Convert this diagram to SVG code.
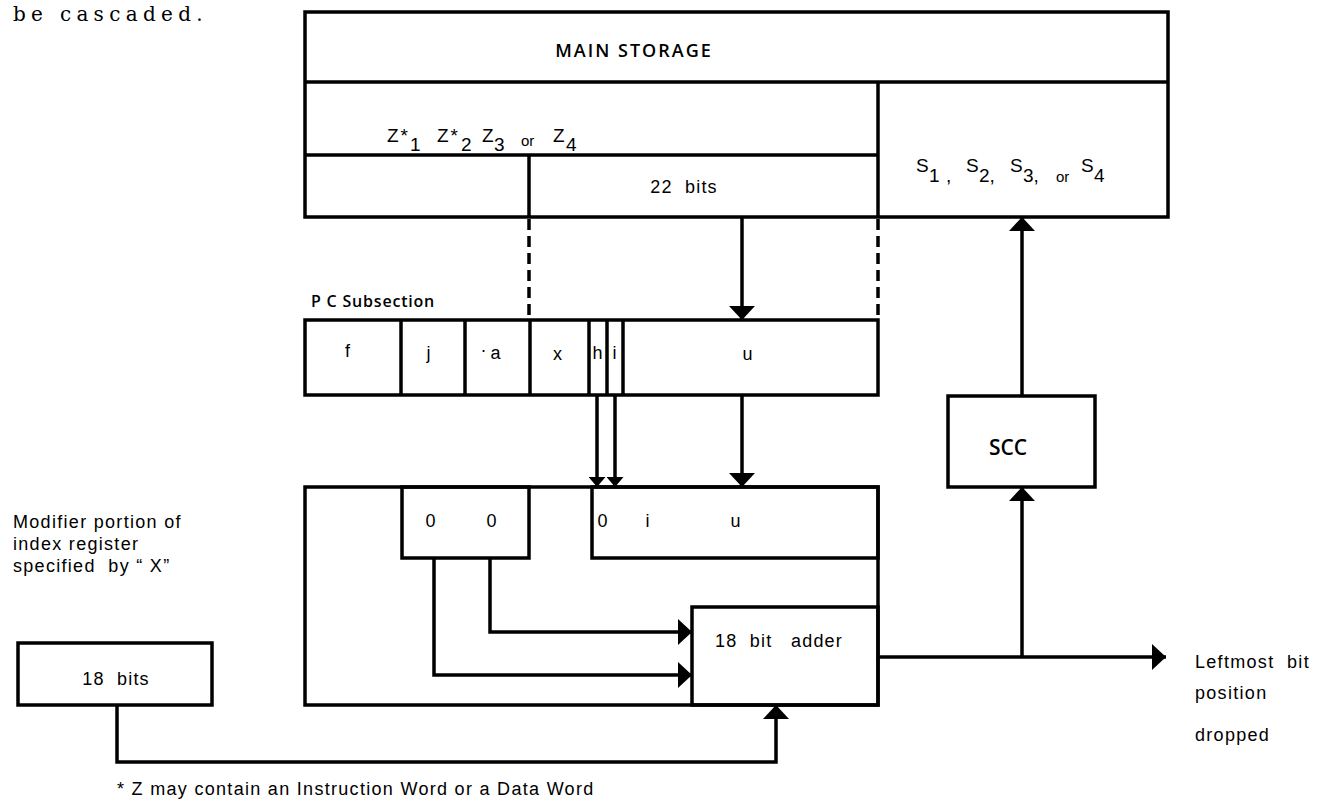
<svg xmlns="http://www.w3.org/2000/svg" width="1332" height="805" viewBox="0 0 1332 805">
<style>
.box{fill:none;stroke:#000;stroke-width:3.5}
.ln{fill:none;stroke:#000;stroke-width:3.5}
.dash{fill:none;stroke:#000;stroke-width:3.5;stroke-dasharray:11 6}
.t{font-family:"Liberation Sans",Arial,sans-serif;font-size:18px;letter-spacing:1.2px;fill:#000;white-space:pre}
.z{font-family:"Liberation Sans",Arial,sans-serif;font-size:19px;fill:#000}
.or{font-family:"Liberation Sans",Arial,sans-serif;font-size:15px;fill:#000}
.s{font-family:"Liberation Sans",Arial,sans-serif;font-size:18px;letter-spacing:1.3px;fill:#000;white-space:pre}
.b{font-family:"Open Sans","Liberation Sans",sans-serif;font-weight:600;fill:#000}
.tw{font-family:"DejaVu Serif","Liberation Serif",serif;font-size:20px;letter-spacing:5.3px;fill:#000}
</style>
<defs>
<marker id="ah" viewBox="0 0 14 26" refX="14" refY="13" markerWidth="14" markerHeight="26" orient="auto" markerUnits="userSpaceOnUse"><path d="M0,0 L14,13 L0,26 z" fill="#000"/></marker>
<marker id="ahs" viewBox="0 0 10 17" refX="10" refY="8.5" markerWidth="10" markerHeight="17" orient="auto" markerUnits="userSpaceOnUse"><path d="M0,0 L10,8.5 L0,17 z" fill="#000"/></marker>
</defs>
<rect width="1332" height="805" fill="#fff"/>
<text class="tw" x="13" y="21">be cascaded.</text>

<g id="main-storage">
<rect class="box" x="305" y="12" width="863" height="205"/>
<line class="ln" x1="305" y1="82" x2="1168" y2="82"/>
<line class="ln" x1="878" y1="82" x2="878" y2="217"/>
<line class="ln" x1="305" y1="155" x2="878" y2="155"/>
<line class="ln" x1="529" y1="155" x2="529" y2="217"/>
<text class="b" x="634" y="57" font-size="18" letter-spacing="2" text-anchor="middle">MAIN STORAGE</text>
<text class="z" x="387" y="142" letter-spacing="2">Z*</text>
<text class="z" x="410" y="151">1</text>
<text class="z" x="437" y="142" letter-spacing="2">Z*</text>
<text class="z" x="461" y="151">2</text>
<text class="z" x="482" y="142">Z</text>
<text class="z" x="494" y="151">3</text>
<text class="or" x="521" y="146">or</text>
<text class="z" x="553" y="142">Z</text>
<text class="z" x="566" y="151">4</text>
<text class="t" x="684" y="193" text-anchor="middle">22  bits</text>
<text class="z" x="916" y="172">S</text>
<text class="z" x="929" y="182">1</text>
<text class="z" x="946" y="182">,</text>
<text class="z" x="966" y="172">S</text>
<text class="z" x="979" y="182">2,</text>
<text class="z" x="1010" y="172">S</text>
<text class="z" x="1023" y="182">3,</text>
<text class="or" x="1056" y="182">or</text>
<text class="z" x="1081" y="172">S</text>
<text class="z" x="1094" y="182">4</text>
</g>

<g id="pc-subsection">
<text class="b" x="311" y="307" font-size="16" letter-spacing="0.8">P C Subsection</text>
<rect class="box" x="305" y="320" width="573" height="75"/>
<line class="ln" x1="401" y1="320" x2="401" y2="395"/>
<line class="ln" x1="465" y1="320" x2="465" y2="395"/>
<line class="ln" x1="530" y1="320" x2="530" y2="395"/>
<line class="ln" x1="589" y1="320" x2="589" y2="395"/>
<line class="ln" x1="607" y1="320" x2="607" y2="395"/>
<line class="ln" x1="623" y1="320" x2="623" y2="395"/>
<text class="t" x="348" y="357" text-anchor="middle">f</text>
<text class="t" x="429" y="359" text-anchor="middle">j</text>
<text class="t" x="484" y="356" text-anchor="middle">·</text>
<text class="t" x="496" y="359" text-anchor="middle">a</text>
<text class="t" x="558" y="360" text-anchor="middle">x</text>
<text class="t" x="598" y="359" text-anchor="middle">h</text>
<text class="t" x="615" y="359" text-anchor="middle">i</text>
<text class="t" x="748" y="360" text-anchor="middle">u</text>
</g>

<g id="modifier-unit">
<rect class="box" x="305" y="487" width="573" height="218"/>
</g>
<g id="zero-zero">
<rect class="box" x="402" y="487" width="127" height="71"/>
<text class="t" x="431" y="527" text-anchor="middle">0</text>
<text class="t" x="492" y="527" text-anchor="middle">0</text>
</g>
<g id="zero-i-u">
<rect class="box" x="592" y="487" width="286" height="71"/>
<text class="t" x="603" y="527" text-anchor="middle">0</text>
<text class="t" x="648" y="527" text-anchor="middle">i</text>
<text class="t" x="736" y="527" text-anchor="middle">u</text>
</g>
<g id="adder">
<rect class="box" x="692" y="607" width="186" height="98"/>
<text class="t" x="779" y="647" text-anchor="middle">18  bit   adder</text>
</g>

<g id="index-register">
<text class="s" x="13" y="528">Modifier portion of</text>
<text class="s" x="13" y="550">index register</text>
<text class="s" x="13" y="572">specified  by “ X”</text>
<rect class="box" x="18" y="643" width="194" height="62"/>
<text class="t" x="116" y="685" text-anchor="middle">18  bits</text>
</g>

<g id="scc">
<rect class="box" x="948" y="396" width="147" height="91"/>
<text class="b" x="1008" y="455" font-size="21" text-anchor="middle">SCC</text>
</g>

<g id="output-label">
<text class="s" x="1195" y="668" letter-spacing="1.8">Leftmost  bit</text>
<text class="s" x="1195" y="699" letter-spacing="1.8">position</text>
<text class="s" x="1195" y="741" letter-spacing="1.8">dropped</text>
</g>

<g id="connectors">
<line class="dash" x1="529" y1="219" x2="529" y2="320"/>
<line class="dash" x1="878" y1="219" x2="878" y2="320"/>
<path class="ln" d="M742,217 V320" marker-end="url(#ah)"/>
<path class="ln" d="M742,395 V487" marker-end="url(#ah)"/>
<path class="ln" d="M597,395 V487" marker-end="url(#ahs)"/>
<path class="ln" d="M615,395 V487" marker-end="url(#ahs)"/>
<path class="ln" d="M490,558 V632 H692" marker-end="url(#ah)"/>
<path class="ln" d="M434,558 V675 H692" marker-end="url(#ah)"/>
<path class="ln" d="M117,705 V762 H776 V705" marker-end="url(#ah)"/>
<path class="ln" d="M878,657 H1166" marker-end="url(#ah)"/>
<path class="ln" d="M1022,657 V487" marker-end="url(#ah)"/>
<path class="ln" d="M1022,396 V217" marker-end="url(#ah)"/>
</g>
<text class="s" x="117" y="795">* Z may contain an Instruction Word or a Data Word</text>
</svg>
